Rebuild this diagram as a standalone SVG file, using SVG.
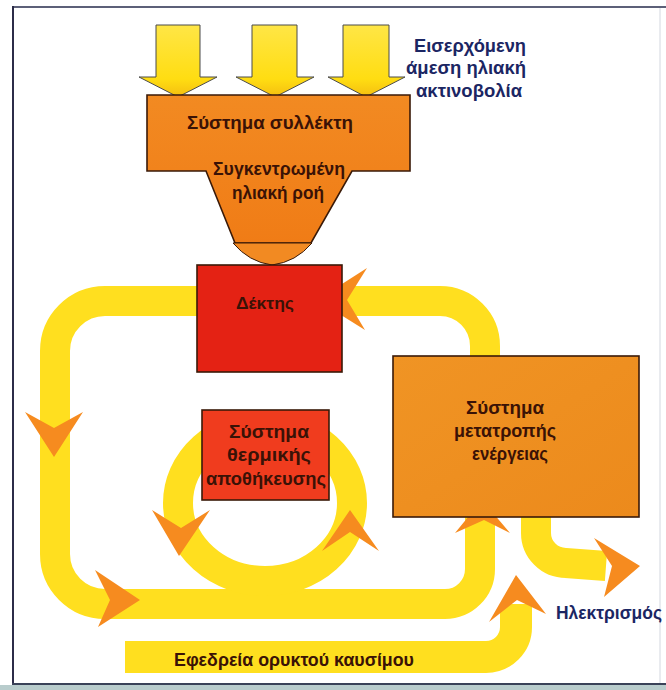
<svg xmlns="http://www.w3.org/2000/svg" width="666" height="690" viewBox="0 0 666 690">
  <defs>
    <linearGradient id="sunGrad" x1="0" y1="0" x2="0" y2="1">
      <stop offset="0" stop-color="#FFE646"/>
      <stop offset="0.75" stop-color="#FFDD12"/>
      <stop offset="1" stop-color="#F5BE10"/>
    </linearGradient>
    <linearGradient id="collectorGrad" x1="0" y1="0" x2="0" y2="1">
      <stop offset="0" stop-color="#F28A22"/>
      <stop offset="1" stop-color="#F07C16"/>
    </linearGradient>
    <linearGradient id="convGrad" x1="0" y1="0" x2="1" y2="1">
      <stop offset="0" stop-color="#F09424"/>
      <stop offset="1" stop-color="#EC8A1C"/>
    </linearGradient>
  </defs>
  <style>
    .flow{fill:none;stroke:#FFDF1F;stroke-width:30}
    .head{fill:#F68B1F}
    .sun{fill:url(#sunGrad);stroke:#4b4b4b;stroke-width:1}
    .box{stroke:#3a1a08;stroke-width:1.6}
    .lbl{font-family:"Liberation Sans",Arial,sans-serif;font-weight:bold;fill:#3a1206;text-anchor:middle}
    .note{font-family:"Liberation Sans",Arial,sans-serif;font-weight:bold;fill:#1b2663;text-anchor:middle}
  </style>

  <rect width="666" height="690" fill="#FFFFFF"/>

  <!-- frame -->
  <g id="frame">
    <line x1="13" y1="7" x2="666" y2="7" stroke="#5C6078" stroke-width="2"/>
    <line x1="13" y1="6" x2="13" y2="685" stroke="#2C2C48" stroke-width="2"/>
    <line x1="660" y1="8" x2="660" y2="684" stroke="#E2E4EA" stroke-width="1.5"/>
    <line x1="12" y1="684" x2="666" y2="684" stroke="#3A4258" stroke-width="2"/>
    <rect x="0" y="685" width="666" height="5" fill="#B8CCCC"/>
  </g>

  <!-- connectors: heat and energy flows -->
  <g id="connectors">
    <!-- main loop: conversion top -> receiver -> left -> bottom -> conversion bottom -->
    <path class="flow" d="M485 358 L485 346 A45 45 0 0 0 440 301 L105 301 A50 50 0 0 0 55 351 L55 554 A50 50 0 0 0 105 604 L445 604 A35 35 0 0 0 480 569 L480 516"/>
    <!-- storage loop -->
    <ellipse class="flow" cx="265" cy="503" rx="87" ry="78"/>
    <!-- electricity output -->
    <path class="flow" d="M536 516 L536 533 A30 30 0 0 0 566 563 L606 566"/>
    <!-- fossil fuel reserve -->
    <path class="flow" style="stroke-width:32" d="M125 657 L486 657 A30 30 0 0 0 516 627 L516 604"/>

    <polygon class="head" points="54,457 25,412 54,428 83,412"/>
    <polygon class="head" points="140,600 95,570 110,600 98,627"/>
    <polygon class="head" points="482,500 510,533 484,520 455,533"/>
    <polygon class="head" points="317,300 367,268 347,300 365,330"/>
    <polygon class="head" points="179,556 152,510 181,528 210,510"/>
    <polygon class="head" points="350,510 379,551 350,532 322,551"/>
    <polygon class="head" points="640,566 594,538 612,566 604,597"/>
    <polygon class="head" points="516,575 546,614 517,600 489,622"/>
  </g>

  <!-- incoming solar radiation -->
  <g id="sun-rays">
    <path class="sun" d="M156 25 H200 V77 H217 L178 97 L139 77 H156 Z"/>
    <path class="sun" d="M252 25 H297 V77 H314 L275 97 L236 77 H252 Z"/>
    <path class="sun" d="M343 25 H389 V77 H405 L366 97 L328 77 H343 Z"/>
  </g>

  <g id="sun-label">
    <text class="note" font-size="19" x="470" y="52" textLength="112" lengthAdjust="spacingAndGlyphs">Εισερχόμενη</text>
    <text class="note" font-size="19" x="466" y="74" textLength="120" lengthAdjust="spacingAndGlyphs">άμεση ηλιακή</text>
    <text class="note" font-size="19" x="469" y="97" textLength="106" lengthAdjust="spacingAndGlyphs">ακτινοβολία</text>
  </g>

  <!-- collector system with concentrating funnel -->
  <g id="collector">
    <path class="box" fill="url(#collectorGrad)" d="M147 95 H410 V171 H352 L311 243 H235 L206 171 H147 Z"/>
    <path fill="#F28A22" stroke="#3a1a08" stroke-width="1" d="M233 243 H312 Q296 262 272 265 Q249 262 233 243 Z"/>
    <text class="lbl" font-size="18" x="270" y="129" textLength="166" lengthAdjust="spacingAndGlyphs">Σύστημα συλλέκτη</text>
    <text class="lbl" font-size="18" x="279" y="175" textLength="132" lengthAdjust="spacingAndGlyphs">Συγκεντρωμένη</text>
    <text class="lbl" font-size="18" x="278" y="199" textLength="92" lengthAdjust="spacingAndGlyphs">ηλιακή ροή</text>
  </g>

  <g id="receiver">
    <rect class="box" x="197" y="265" width="145" height="107" fill="#E42214"/>
    <text class="lbl" font-size="17" x="265" y="309" textLength="58" lengthAdjust="spacingAndGlyphs">Δέκτης</text>
  </g>

  <g id="storage">
    <rect class="box" x="202" y="410" width="127" height="90" fill="#F03C1E"/>
    <text class="lbl" font-size="19" x="269" y="438" textLength="80" lengthAdjust="spacingAndGlyphs">Σύστημα</text>
    <text class="lbl" font-size="19" x="269" y="461" textLength="84" lengthAdjust="spacingAndGlyphs">θερμικής</text>
    <text class="lbl" font-size="19" x="266" y="485" textLength="120" lengthAdjust="spacingAndGlyphs">αποθήκευσης</text>
  </g>

  <g id="conversion">
    <rect class="box" x="393" y="356" width="246" height="161" fill="url(#convGrad)"/>
    <text class="lbl" font-size="19" x="505" y="414" textLength="78" lengthAdjust="spacingAndGlyphs">Σύστημα</text>
    <text class="lbl" font-size="19" x="505" y="437" textLength="102" lengthAdjust="spacingAndGlyphs">μετατροπής</text>
    <text class="lbl" font-size="19" x="510" y="460" textLength="76" lengthAdjust="spacingAndGlyphs">ενέργειας</text>
  </g>

  <g id="electricity-label">
    <text class="note" font-size="18" x="609" y="619" textLength="106" lengthAdjust="spacingAndGlyphs">Ηλεκτρισμός</text>
  </g>

  <g id="fossil-label">
    <text class="lbl" font-size="18" x="294" y="666" textLength="240" lengthAdjust="spacingAndGlyphs">Εφεδρεία ορυκτού καυσίμου</text>
  </g>
</svg>
